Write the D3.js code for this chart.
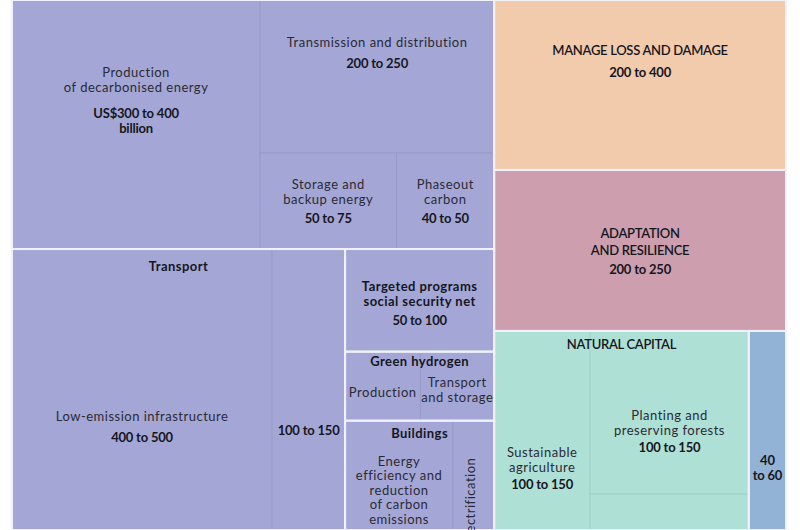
<!DOCTYPE html>
<html>
<head>
<meta charset="utf-8">
<script src="https://cdn.jsdelivr.net/npm/d3@7"></script>
<style>
  body { margin: 0; background: #fff; }
  svg { display: block; font-family: Lato, "Noto Sans", sans-serif; font-size: 13px; }
</style>
</head>
<body>
<div id="chart"></div>
<script>
// one entry per box; the path gives the nesting of the treemap
const paths = [
  "/L/energy/prod", "/L/energy/rest/trans", "/L/energy/rest/low/storage", "/L/energy/rest/low/phaseout",
  "/L/lower/transport/infra", "/L/lower/transport/other",
  "/L/lower/col/targeted", "/L/lower/col/hydrogen/prod", "/L/lower/col/hydrogen/ts",
  "/L/lower/col/buildings/eff", "/L/lower/col/buildings/elec",
  "/R/loss", "/R/adapt",
  "/R/low/natural/agri", "/R/low/natural/forest/planting", "/R/low/natural/forest/other",
  "/R/low/blue"
];
// box names ("|" = line break)
const names = [
  "Production|of decarbonised energy", "Transmission and distribution", "Storage and|backup energy", "Phaseout|carbon",
  "Low-emission infrastructure", "",
  "Targeted programs|social security net", "Production", "Transport|and storage",
  "Energy|efficiency and|reduction|of carbon|emissions", "Electrification",
  "MANAGE LOSS AND DAMAGE", "ADAPTATION|AND RESILIENCE",
  "Sustainable|agriculture", "Planting and|preserving forests", "",
  ""
];
// US$ billion per year
const ranges = [
  "US$300 to 400|billion", "200 to 250", "50 to 75", "40 to 50",
  "400 to 500", "100 to 150",
  "50 to 100", "", "",
  "", "",
  "200 to 400", "200 to 250",
  "100 to 150", "100 to 150", "",
  "40|to 60"
];
// box area weights
const weights = [618, 358, 131, 94, 731, 205, 153, 52, 51, 118, 45, 496, 470, 191, 259, 57, 74];
const kinds = ["energy", "energy", "energy", "energy", "energy", "energy", "energy", "energy", "energy", "energy", "energy",
  "loss", "adapt", "nature", "nature", "nature", "water"];

// boxes outlined in white, and their titles
const groups = ["/L/energy", "/L/lower/transport", "/L/lower/col/targeted", "/L/lower/col/hydrogen",
  "/L/lower/col/buildings", "/R/loss", "/R/adapt", "/R/low/natural", "/R/low/blue"];
const groupTitles = {
  "/L/lower/transport": ["Transport", 22],
  "/L/lower/col/hydrogen": ["Green hydrogen", 14],
  "/L/lower/col/buildings": ["Buildings", 17],
  "/R/low/natural": ["NATURAL CAPITAL", 18]
};

// how each inner node is cut: "dice" = side by side, "slice" = stacked
const split = {
  "/": "dice", "/L": "slice", "/L/energy": "dice", "/L/energy/rest": "slice", "/L/energy/rest/low": "dice",
  "/L/lower": "dice", "/L/lower/transport": "dice", "/L/lower/col": "slice",
  "/L/lower/col/hydrogen": "dice", "/L/lower/col/buildings": "dice",
  "/R": "slice", "/R/low": "dice", "/R/low/natural": "dice", "/R/low/natural/forest": "slice"
};

// baseline of every text line, from the top of its box
const lineTops = [
  [77, 92, 118, 133], [47, 68], [36, 51, 70], [36, 51, 70],
  [172, 193], [186],
  [42, 57, 76], [45], [35, 50],
  [45, 59.5, 74, 88.5, 103], [37],
  [55, 77], [68, 85, 104],
  [126, 141, 158], [89, 104, 121], [],
  [134, 149]
];

// text looks
const looks = {
  name:  { weight: 400, spacing: 0.5,  fill: "#2a2a35" },
  bold:  { weight: 700, spacing: 0.45, fill: "#16161e" },
  caps:  { weight: 600, spacing: -0.3, fill: "#16161e" },
  num:   { weight: 700, spacing: -0.2, fill: "#16161e" }
};

const width = 800, height = 530;
const margin = { left: 12, right: 14 };

const color = d3.scaleOrdinal()
  .domain(["energy", "loss", "adapt", "nature", "water"])
  .range(["#a4a7d6", "#f2cbad", "#cd9fae", "#afe0d5", "#93b3d6"]);

const table = paths.map((p, i) => ({
  path: p, i: i, name: names[i], range: ranges[i], weight: weights[i], kind: kinds[i]
}));

const root = d3.stratify().path(d => d.path)(table);
root.sum(d => (d && d.weight) || 0);
// keep the order of the table
root.eachAfter(n => { n.ord = n.children ? d3.min(n.children, c => c.ord) : n.data.i; });
root.sort((a, b) => a.ord - b.ord);

d3.treemap()
  .size([width - margin.left - margin.right, height])
  .tile((node, x0, y0, x1, y1) => {
    (split[node.id] === "slice" ? d3.treemapSlice : d3.treemapDice)(node, x0, y0, x1, y1);
  })(root);

const svg = d3.select("#chart").append("svg")
  .attr("width", width)
  .attr("height", height);

const g = svg.append("g").attr("transform", `translate(${margin.left},0)`);

const leaves = root.leaves();

// boxes
g.selectAll("rect.leaf").data(leaves).enter().append("rect")
  .attr("class", "leaf")
  .attr("x", d => d.x0)
  .attr("y", d => d.y0)
  .attr("width", d => d.x1 - d.x0)
  .attr("height", d => d.y1 - d.y0)
  .style("fill", d => color(d.data.kind))
  .style("stroke", d => d3.color(color(d.data.kind)).darker(0.25))
  .style("stroke-width", 0.8);

// white borders around the main groups
const groupNodes = root.descendants().filter(n => groups.includes(n.id));
g.selectAll("rect.group").data(groupNodes).enter().append("rect")
  .attr("class", "group")
  .attr("x", d => d.x0)
  .attr("y", d => d.y0)
  .attr("width", d => d.x1 - d.x0)
  .attr("height", d => d.y1 - d.y0)
  .style("fill", "none")
  .style("stroke", "#f1f1fb")
  .style("stroke-width", 2);

function styleText(sel, look) {
  sel.style("font-weight", look.weight)
    .style("letter-spacing", look.spacing + "px")
    .style("fill", look.fill);
}

// labels
leaves.forEach(d => {
  const nameLines = d.data.name ? d.data.name.split("|") : [];
  const rangeLines = d.data.range ? d.data.range.split("|") : [];
  const tops = lineTops[d.data.i];
  const cx = (d.x0 + d.x1) / 2;
  const nameLook = (d.data.kind === "loss" || d.data.kind === "adapt") ? "caps"
    : d.data.path === "/L/lower/col/targeted" ? "bold" : "name";

  if (d.data.path === "/L/lower/col/buildings/elec") {
    g.append("text")
      .attr("transform", `translate(${cx + 1.5},${d.y0 + tops[0]}) rotate(-90)`)
      .attr("text-anchor", "end")
      .text(nameLines[0])
      .call(styleText, looks.name);
    return;
  }

  const lines = nameLines.map(t => ({ t: t, look: nameLook }))
    .concat(rangeLines.map(t => ({ t: t, look: "num" })));

  lines.forEach((l, j) => {
    g.append("text")
      .attr("x", cx)
      .attr("y", d.y0 + tops[j])
      .attr("text-anchor", "middle")
      .text(l.t)
      .call(styleText, looks[l.look]);
  });
});

// group titles
groupNodes.filter(n => groupTitles[n.id]).forEach(n => {
  const t = groupTitles[n.id];
  g.append("text")
    .attr("x", (n.x0 + n.x1) / 2)
    .attr("y", n.y0 + t[1])
    .attr("text-anchor", "middle")
    .text(t[0])
    .call(styleText, n.id === "/R/low/natural" ? looks.caps : looks.bold);
});
</script>
</body>
</html>
